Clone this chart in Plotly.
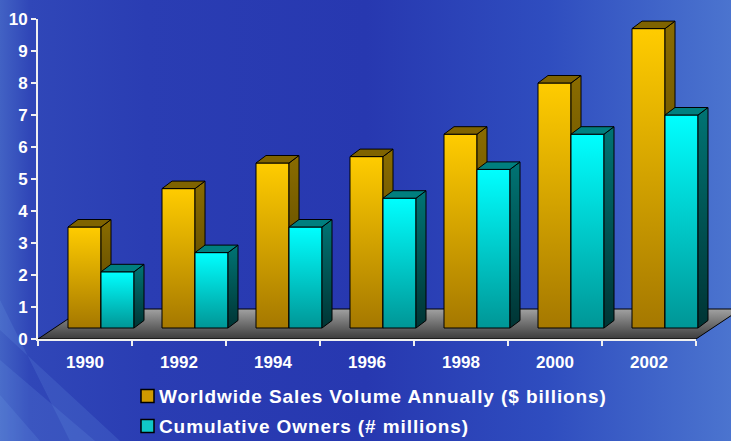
import plotly.graph_objects as go

# ---- data -------------------------------------------------------------
years = ["1990", "1992", "1994", "1996", "1998", "2000", "2002"]
sales = [3.5, 4.7, 5.5, 5.7, 6.4, 8.0, 9.7]       # $ billions
owners = [2.1, 2.7, 3.5, 4.4, 5.3, 6.4, 7.0]      # millions
y_ticks = list(range(0, 11))
series_names = ["Worldwide Sales Volume Annually ($ billions)",
                "Cumulative Owners (# millions)"]

# ---- canvas / frame geometry (pixels) ----------------------------------
W, H = 731, 441
X0, X1 = 38, 696          # left / right end of the category axis
Y0, Y1 = 339, 19          # pixel rows of value 0 and value 10
n = len(years)
cat_px = (X1 - X0) / n
unit_px = (Y0 - Y1) / 10.0

# full-canvas drawing axes (category index on x, value on y)
x_range = [-0.5 - X0 / cat_px, -0.5 + (W - X0) / cat_px]
y_range = [-(H - Y0) / unit_px, Y0 / unit_px]

# pseudo-3D offsets, in axis units
FX, FY = 45 / cat_px, 30 / unit_px     # floor depth
SX, SY = 16 / cat_px, 11 / unit_px     # bar plane inside the floor
DX, DY = 10 / cat_px, 7.5 / unit_px    # bar depth
BW = 33 / cat_px                        # bar width

FONT = "Liberation Sans, Arial, sans-serif"

GOLD = dict(front=[[0, "#a57800"], [1, "#ffcc00"]],
            side=[[0, "#4e3c00"], [1, "#8a6c00"]],
            top="#7f6300", swatch="#d09a00")
CYAN = dict(front=[[0, "#009696"], [1, "#00ffff"]],
            side=[[0, "#003434"], [1, "#007474"]],
            top="#007f7f", swatch="#10c8c8")


def face(xs, ys, fill=None, grad=None, gtype="vertical", lw=1, lc="black"):
    tr = dict(x=xs + [xs[0]], y=ys + [ys[0]], mode="lines", fill="toself",
              line=dict(color=lc, width=lw), hoverinfo="skip",
              showlegend=False, xaxis="x", yaxis="y")
    if grad is not None:
        tr["fillgradient"] = dict(type=gtype, colorscale=grad)
    else:
        tr["fillcolor"] = fill
    return go.Scatter(**tr)


def px_x(p):
    return x_range[0] + p / cat_px


def px_y(p):
    return (Y0 - p) / unit_px


fig = go.Figure()

# background
fig.add_trace(face([x_range[0], x_range[1], x_range[1], x_range[0]],
                   [y_range[0], y_range[0], y_range[1], y_range[1]],
                   grad=[[0, "#4262c4"], [0.04, "#3047b8"], [0.2, "#2a3db3"],
                         [0.5, "#2738b0"], [0.75, "#2f4dbf"], [1, "#4b74cf"]],
                   gtype="horizontal", lw=0, lc="rgba(0,0,0,0)"))
# soft light streaks at the lower left
for pts in ([(0, 360), (0, 441), (95, 441)],
            [(0, 395), (0, 441), (40, 441)],
            [(0, 300), (0, 330), (120, 441), (70, 441)]):
    fig.add_trace(face([px_x(a) for a, b in pts], [px_y(b) for a, b in pts],
                       fill="rgba(120,170,235,0.16)", lw=0,
                       lc="rgba(0,0,0,0)"))

# floor slab
fig.add_trace(face([-0.5, n - 0.5, n - 0.5 + FX, -0.5 + FX],
                   [0, 0, FY, FY],
                   grad=[[0, "#3c3c3c"], [0.5, "#6e6e6e"], [1, "#a2a2a2"]]))


def bar(xl, value, pal):
    xr = xl + BW
    yb = SY
    fig.add_trace(face([xl, xr, xr, xl], [yb, yb, value, value],
                       grad=pal["front"]))
    fig.add_trace(face([xr, xr + DX, xr + DX, xr],
                       [yb, yb + DY, value + DY, value],
                       grad=pal["side"]))
    fig.add_trace(face([xl, xr, xr + DX, xl + DX],
                       [value, value, value + DY, value + DY],
                       fill=pal["top"]))


for i in range(n):
    bar(i + SX - BW, sales[i], GOLD)
    bar(i + SX, owners[i], CYAN)

# axes frame with ticks and labels
fig.add_trace(go.Scatter(x=years, y=[None] * n, xaxis="x2", yaxis="y2",
                         mode="lines", showlegend=False, hoverinfo="skip"))

tickfont = dict(family=FONT, size=17, color="white", weight="bold")
fig.update_layout(
    width=W, height=H, margin=dict(l=0, r=0, t=0, b=0, pad=0),
    paper_bgcolor="#2a3db3", plot_bgcolor="rgba(0,0,0,0)",
    showlegend=False,
    xaxis=dict(domain=[0, 1], range=x_range, visible=False, fixedrange=True,
               automargin=False),
    yaxis=dict(domain=[0, 1], range=y_range, visible=False, fixedrange=True,
               automargin=False),
    xaxis2=dict(domain=[X0 / W, X1 / W], anchor="y2", type="category",
                categoryorder="array", categoryarray=years,
                range=[-0.5, n - 0.5], tickson="boundaries",
                showline=True, linecolor="#f0f0f0", linewidth=2,
                ticks="outside", ticklen=5, tickcolor="#f0f0f0", tickwidth=1.5,
                showgrid=False, zeroline=False, tickfont=tickfont,
                ticklabelstandoff=7, automargin=False),
    yaxis2=dict(domain=[(H - Y0) / H, (H - Y1) / H], anchor="x2",
                range=[0, 10], tickvals=y_ticks,
                showline=True, linecolor="#f0f0f0", linewidth=2,
                ticks="outside", ticklen=5, tickcolor="#f0f0f0", tickwidth=1.5,
                showgrid=False, zeroline=False, tickfont=tickfont,
                automargin=False),
)

# legend rows
for k, (name, pal) in enumerate(zip(series_names, (GOLD, CYAN))):
    cy = 396 + 30 * k
    fig.add_shape(type="rect", xref="paper", yref="paper",
                  x0=141 / W, x1=154 / W,
                  y0=(H - cy - 6.5) / H, y1=(H - cy + 6.5) / H,
                  fillcolor=pal["swatch"], line=dict(color="black", width=1.5))
    fig.add_annotation(text='<span style="letter-spacing:0.9px">'
                            + name + "</span>",
                       xref="paper", yref="paper",
                       x=157 / W, y=(H - cy) / H, xanchor="left",
                       yanchor="middle", showarrow=False,
                       font=dict(family=FONT, size=19, color="white",
                                 weight="bold"))

fig.write_html("out.html")
